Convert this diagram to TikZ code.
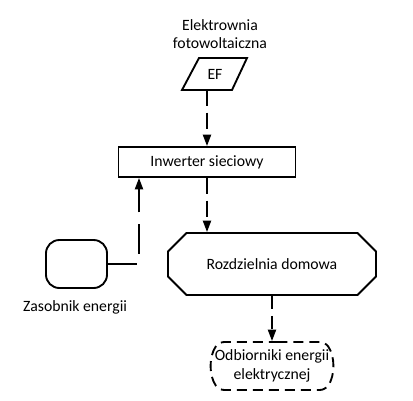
\documentclass[tikz,border=0pt]{standalone}
\usepackage{fontspec}
\setmainfont{Carlito}
\usetikzlibrary{arrows.meta,shapes.misc}

\tikzset{
  block/.style={draw,line width=1.4pt,inner sep=0pt,align=center,font=\fontsize{11.8}{14}\selectfont},
  label/.style={inner sep=0pt,align=center,font=\fontsize{11.8}{14}\selectfont},
  flow/.style={line width=1.4pt,-{Triangle[length=8.5pt,width=6pt]}},
  shortdash/.style={dash pattern=on 12pt off 5pt},
  longdash/.style={dash pattern=on 22pt off 9pt},
}

\begin{document}
\begin{tikzpicture}[x=0.75pt,y=0.75pt,yscale=-1,xscale=1]
\path[use as bounding box] (0,0) rectangle (413,400); %set diagram size

% Text Node
\node [label] (pvtext) at (220,34) {Elektrownia\\fotowoltaiczna};
%Shape: Parallelogram [id:ef]
\draw [line width=1.4pt,line join=miter] (182,90) -- (199,58) -- (247,58) -- (232,90) -- cycle ;
\node [label] (ef) at (215,74) {EF};
\coordinate (efout) at (207,90);
%Shape: Rectangle [id:inw]
\node [block,minimum width=132.75pt,minimum height=22.5pt] (inw) at (207,162) {Inwerter sieciowy};
%Shape: Chamfered Rectangle [id:rozd]
\node [block,chamfered rectangle,chamfered rectangle xsep=9.75pt,chamfered rectangle ysep=9.75pt,minimum width=156pt,minimum height=46.5pt] (rozd) at (272,264) {Rozdzielnia domowa};
%Shape: Rounded Rectangle [id:zas]
\node [block,rounded corners=10pt,minimum width=45.75pt,minimum height=36pt] (zas) at (76.5,264) {};
% Text Node
\node [label] (zastext) at (75,307) {Zasobnik energii};
%Shape: Rounded Rectangle [id:odb]
\node [block,dash pattern=on 7.5pt off 4.5pt,rounded rectangle,rounded rectangle arc length=70,rounded corners=4pt,minimum width=91pt,minimum height=36pt] (odb) at (272,366) {Odbiorniki energii\\elektrycznej};

%Straight Lines [id:tap]
\coordinate (tap) at (139,264);
\draw [flow,shortdash] (efout) -- (efout |- inw.north);
\draw [flow,shortdash] (inw.south) -- (inw.south |- rozd.north);
\draw [flow,longdash] (zas.east) -- (tap) -- (tap |- inw.south);
\draw [flow,dash pattern=on 10pt off 5pt] (rozd.south) -- (odb.north);

\end{tikzpicture}
\end{document}
